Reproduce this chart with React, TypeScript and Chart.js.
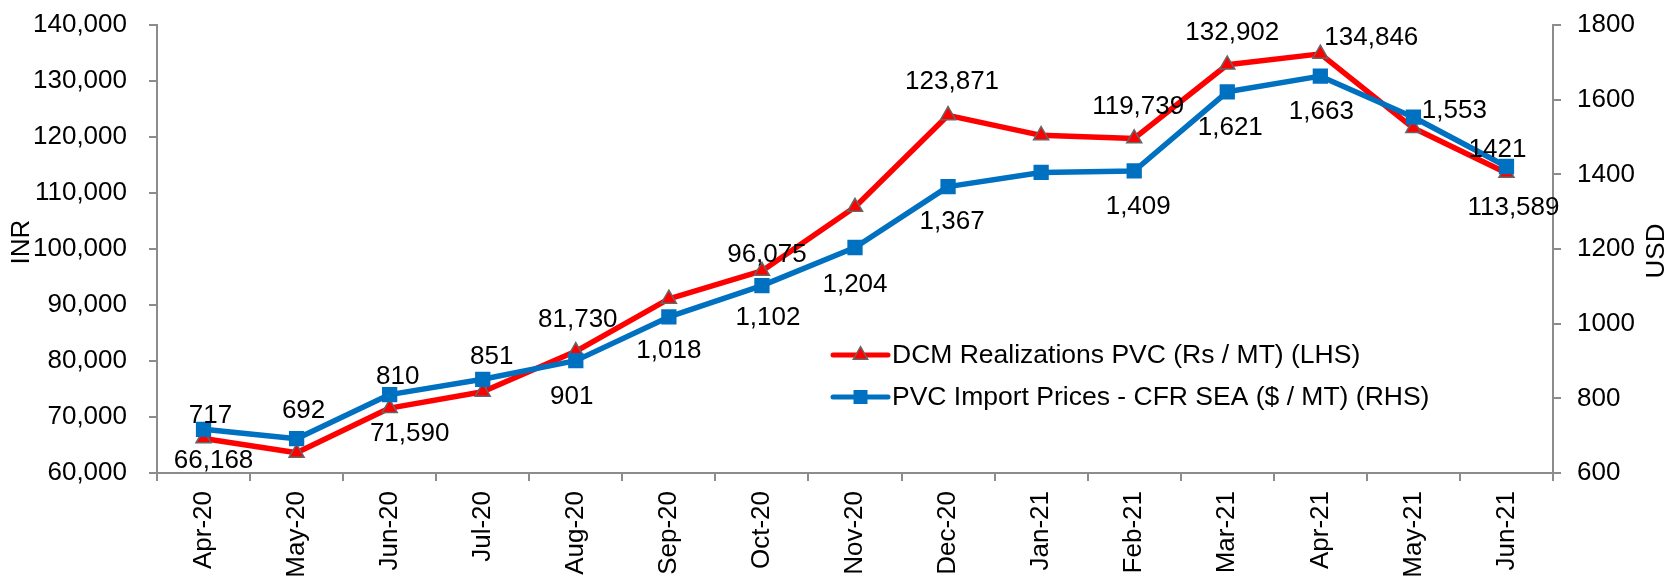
import { useEffect, useRef } from 'react';
import { Chart, registerables } from 'chart.js';

Chart.register(...registerables);

const FONT = "'Liberation Sans', Arial, sans-serif";
const FONT_SIZE = 26;
const AXIS_COLOR = '#8c8c8c';
const RED = '#ff0000';
const BLUE = '#0070c0';

// ---- data ----
const categories = [
  'Apr-20', 'May-20', 'Jun-20', 'Jul-20', 'Aug-20', 'Sep-20', 'Oct-20', 'Nov-20',
  'Dec-20', 'Jan-21', 'Feb-21', 'Mar-21', 'Apr-21', 'May-21', 'Jun-21',
];
const dcmRealizations = [
  66168, 63600, 71590, 74500, 81730, 91100, 96075, 107500,
  123871, 120300, 119739, 132902, 134846, 121600, 113589,
];
const pvcImportPrices = [
  717, 692, 810, 851, 901, 1018, 1102, 1204,
  1367, 1405, 1409, 1621, 1663, 1553, 1421,
];
const inrTicks = [60000, 70000, 80000, 90000, 100000, 110000, 120000, 130000, 140000];
const usdTicks = [600, 800, 1000, 1200, 1400, 1600, 1800];

const seriesNames = [
  'DCM Realizations PVC (Rs / MT) (LHS)',
  'PVC Import Prices - CFR SEA ($ / MT) (RHS)',
];

// ---- label placement (style: offset of each data label from its point; null = no label) ----
type Off = [number, number] | null;
const dcmLabelOffsets: Off[] = [
  [10, 22], null, [20, 26], null, [2, -31], null, [5, -16], null,
  [4, -33], null, [4, -32], [5, -32], [51, -16], null, [7, 35],
];
const pvcLabelOffsets: Off[] = [
  [7, -13], [7, -28], [8, -18], [9, -22], [-4, 36], [0, 34], [6, 32], [0, 37],
  [4, 35], null, [4, 36], [3, 36], [1, 36], [41, -6], [-9, -17],
];
const pvcNoComma = [14];

const fmt = (v: number) => v.toLocaleString('en-US');

const labelPlugin = {
  id: 'pointLabels',
  afterDatasetsDraw(chart: any) {
    const ctx = chart.ctx;
    ctx.save();
    ctx.font = `${FONT_SIZE}px ${FONT}`;
    ctx.fillStyle = '#000';
    ctx.textAlign = 'center';
    ctx.textBaseline = 'middle';
    const offsetsList = [dcmLabelOffsets, pvcLabelOffsets];
    chart.data.datasets.forEach((ds: any, di: number) => {
      const meta = chart.getDatasetMeta(di);
      meta.data.forEach((pt: any, i: number) => {
        const off = offsetsList[di][i];
        if (!off) return;
        const v = ds.data[i] as number;
        const text = di === 1 && pvcNoComma.includes(i) ? String(v) : fmt(v);
        ctx.fillText(text, pt.x + off[0], pt.y + off[1]);
      });
    });
    ctx.restore();
  },
};

const legendTitlePlugin = {
  id: 'legendTitles',
  afterDraw(chart: any) {
    const ctx = chart.ctx;
    const ca = chart.chartArea;
    ctx.save();
    // legend
    const x0 = ca.left + 676;
    const x1 = x0 + 55;
    const cx = (x0 + x1) / 2;
    chart.data.datasets.forEach((ds: any, i: number) => {
      const y = ca.top + 330 + i * 42;
      ctx.strokeStyle = ds.borderColor;
      ctx.lineWidth = 5;
      ctx.lineCap = 'round';
      ctx.beginPath();
      ctx.moveTo(x0, y);
      ctx.lineTo(x1, y);
      ctx.stroke();
      ctx.lineCap = 'butt';
      if (ds.pointStyle === 'triangle') {
        const r = 8.3;
        ctx.beginPath();
        for (let k = 0; k < 3; k++) {
          const a = (k * 2 * Math.PI) / 3;
          const px = cx + Math.sin(a) * r;
          const py = y - Math.cos(a) * r;
          if (k === 0) ctx.moveTo(px, py); else ctx.lineTo(px, py);
        }
        ctx.closePath();
        ctx.fillStyle = ds.pointBackgroundColor;
        ctx.fill();
        ctx.strokeStyle = ds.pointBorderColor;
        ctx.lineWidth = 1.5;
        ctx.stroke();
      } else {
        const s = 7;
        ctx.fillStyle = ds.pointBackgroundColor;
        ctx.fillRect(cx - s, y - s, 2 * s, 2 * s);
      }
      ctx.fillStyle = '#000';
      ctx.font = `26.5px ${FONT}`;
      ctx.textAlign = 'left';
      ctx.textBaseline = 'middle';
      ctx.fillText(seriesNames[i], x1 + 4, y + 1);
    });
    // axis titles
    const midY = (ca.top + ca.bottom) / 2;
    ctx.fillStyle = '#000';
    ctx.font = `${FONT_SIZE}px ${FONT}`;
    ctx.textAlign = 'center';
    ctx.textBaseline = 'middle';
    ctx.save();
    ctx.translate(22, midY - 7);
    ctx.rotate(-Math.PI / 2);
    ctx.fillText('INR', 0, 0);
    ctx.restore();
    ctx.save();
    ctx.translate(chart.width - 16, midY + 2);
    ctx.rotate(-Math.PI / 2);
    ctx.fillText('USD', 0, 0);
    ctx.restore();
    ctx.restore();
  },
};

const tickFont = { family: FONT, size: FONT_SIZE };

const noPad = (s: any) => {
  s.paddingTop = 0;
  s.paddingBottom = 0;
  s.paddingLeft = 0;
  s.paddingRight = 0;
};

export default function App() {
  const canvasRef = useRef<HTMLCanvasElement | null>(null);

  useEffect(() => {
    if (!canvasRef.current) return;
    const chart = new Chart(canvasRef.current, {
      type: 'line',
      data: {
        labels: categories,
        datasets: [
          {
            label: seriesNames[0],
            data: dcmRealizations,
            yAxisID: 'y',
            borderColor: RED,
            backgroundColor: RED,
            borderWidth: 5.5,
            pointStyle: 'triangle',
            pointRadius: 8.7,
            pointBackgroundColor: RED,
            pointBorderColor: '#666666',
            pointBorderWidth: 1.5,
            tension: 0,
            order: 1,
          } as any,
          {
            label: seriesNames[1],
            data: pvcImportPrices,
            yAxisID: 'y1',
            borderColor: BLUE,
            backgroundColor: BLUE,
            borderWidth: 5.5,
            pointStyle: 'rect',
            pointRadius: 10.8,
            pointBackgroundColor: BLUE,
            pointBorderColor: BLUE,
            pointBorderWidth: 0,
            tension: 0,
            order: 0,
          } as any,
        ],
      },
      options: {
        animation: false,
        responsive: false,
        devicePixelRatio: 1,
        layout: { padding: { top: 25, left: 0, right: 0, bottom: 0 } },
        elements: { line: { borderJoinStyle: 'round' } },
        plugins: {
          legend: { display: false },
          tooltip: { enabled: false },
        },
        scales: {
          x: {
            type: 'category',
            offset: true,
            grid: {
              display: true,
              offset: true,
              drawOnChartArea: false,
              drawTicks: true,
              tickLength: 8,
              color: AXIS_COLOR,
              lineWidth: 2,
            },
            border: { display: true, color: AXIS_COLOR, width: 2 },
            ticks: {
              color: '#000',
              font: tickFont,
              minRotation: 90,
              maxRotation: 90,
              padding: 10,
              autoSkip: false,
            },
            afterFit: (s: any) => { s.height = 103; noPad(s); },
          },
          y: {
            type: 'linear',
            position: 'left',
            min: inrTicks[0],
            max: inrTicks[inrTicks.length - 1],
            afterBuildTicks: (s: any) => { s.ticks = inrTicks.map((v) => ({ value: v })); },
            ticks: {
              color: '#000',
              font: tickFont,
              padding: 22,
              callback: (v: any) => fmt(Number(v)),
            },
            grid: {
              drawOnChartArea: false,
              tickLength: 8,
              color: AXIS_COLOR,
              lineWidth: 2,
            },
            border: { display: true, color: AXIS_COLOR, width: 2 },
            afterFit: (s: any) => { s.width = 157; noPad(s); },
          },
          y1: {
            type: 'linear',
            position: 'right',
            min: usdTicks[0],
            max: usdTicks[usdTicks.length - 1],
            afterBuildTicks: (s: any) => { s.ticks = usdTicks.map((v) => ({ value: v })); },
            ticks: {
              color: '#000',
              font: tickFont,
              padding: 16,
              callback: (v: any) => String(v),
            },
            grid: {
              drawOnChartArea: false,
              tickLength: 8,
              color: AXIS_COLOR,
              lineWidth: 2,
            },
            border: { display: true, color: AXIS_COLOR, width: 2 },
            afterFit: (s: any) => { s.width = 120; noPad(s); },
          },
        },
      } as any,
      plugins: [labelPlugin, legendTitlePlugin],
    });
    return () => chart.destroy();
  }, []);

  return (
    <div style={{ position: 'absolute', left: 0, top: 0, width: 1673, height: 576, background: '#fff' }}>
      <canvas ref={canvasRef} width={1673} height={576} style={{ display: 'block' }} />
    </div>
  );
}
